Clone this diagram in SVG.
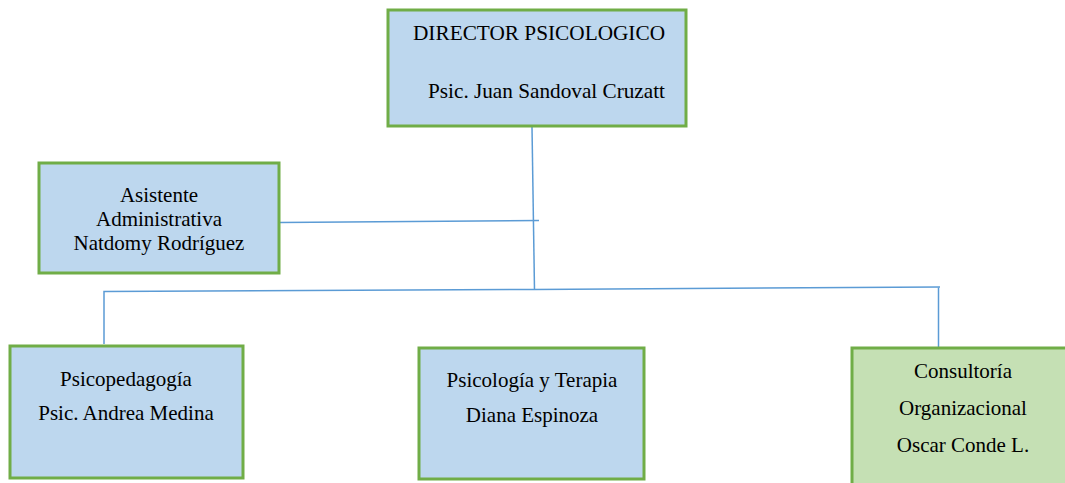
<svg xmlns="http://www.w3.org/2000/svg" width="1065" height="483" viewBox="0 0 1065 483">
<style>
.box{fill:#BDD7EE;stroke:#70AD47;stroke-width:3}
.boxg{fill:#C5E0B4;stroke:#70AD47;stroke-width:3}
.t{font-family:"Liberation Serif","Times New Roman",serif;font-size:21px;fill:#000}
.c{text-anchor:middle}
.ln{fill:none;stroke:#5B9BD5;stroke-width:1.5}
</style>
<rect width="1065" height="483" fill="#fff"/>
<g id="connectors">
<line class="ln" x1="532" y1="127" x2="534.5" y2="290"/>
<line class="ln" x1="280" y1="222.5" x2="539" y2="220.5"/>
<polyline class="ln" points="104,344 104,291.5 534,289.5 940,287"/>
<line class="ln" x1="938.5" y1="287.5" x2="938.5" y2="347"/>
</g>
<g id="director">
<rect class="box" x="388" y="10" width="298" height="116"/>
<text class="t" x="413" y="40" textLength="252" lengthAdjust="spacingAndGlyphs">DIRECTOR PSICOLOGICO</text>
<text class="t" x="428" y="98" textLength="237" lengthAdjust="spacingAndGlyphs">Psic. Juan Sandoval Cruzatt</text>
</g>
<g id="asistente">
<rect class="box" x="39" y="163" width="240" height="110"/>
<text class="t c" x="159" y="202">Asistente</text>
<text class="t c" x="159" y="226">Administrativa</text>
<text class="t c" x="159" y="250">Natdomy Rodríguez</text>
</g>
<g id="psicopedagogia">
<rect class="box" x="10" y="346" width="233" height="132"/>
<text class="t c" x="126" y="386">Psicopedagogía</text>
<text class="t c" x="126" y="420">Psic. Andrea Medina</text>
</g>
<g id="psicologia">
<rect class="box" x="419" y="348" width="225" height="131"/>
<text class="t c" x="532" y="387">Psicología y Terapia</text>
<text class="t c" x="532" y="422">Diana Espinoza</text>
</g>
<g id="consultoria">
<rect class="boxg" x="852" y="348" width="220" height="150"/>
<text class="t c" x="963" y="378">Consultoría</text>
<text class="t c" x="963" y="415">Organizacional</text>
<text class="t c" x="963" y="452">Oscar Conde L.</text>
</g>
</svg>
